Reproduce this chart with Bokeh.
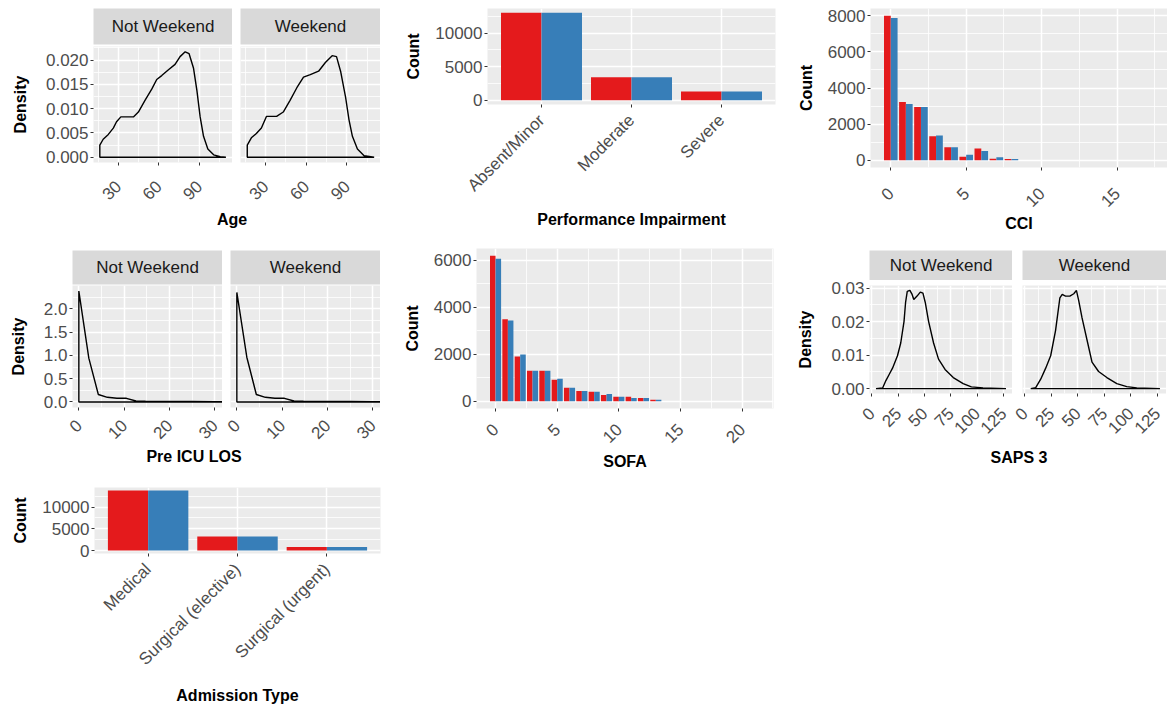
import math
from bokeh.plotting import figure
from bokeh.models import Range1d, FixedTicker, NumeralTickFormatter, Label, Spacer, ColumnDataSource
from bokeh.layouts import row, column
from bokeh.transform import dodge
from bokeh.embed import file_html
from bokeh.resources import INLINE

# ---------------------------------------------------------------- data
FACETS = ["Not Weekend", "Weekend"]

AGE_NW_X = [16.3, 18.8, 22.6, 26.3, 28.7, 31.9, 41.2, 44.9, 49.8, 54.8, 58.5, 62.2, 67.2,
            72.1, 75.8, 79.6, 82.5, 85.8, 88.3, 90.7, 93.2, 96.4, 100.7, 105.6, 109.8]
AGE_NW_Y = [0.0025, 0.0037, 0.0047, 0.0060, 0.0073, 0.0083, 0.0083, 0.0093, 0.0117, 0.0140,
            0.0160, 0.0168, 0.0180, 0.0191, 0.0207, 0.0217, 0.0213, 0.0183, 0.0137, 0.0083,
            0.0043, 0.0017, 0.0005, 0.0001, 0.0]
AGE_WE_X = [16.6, 19.6, 23.3, 27.0, 30.7, 38.2, 43.1, 48.1, 53.1, 58.0, 63.0, 69.1, 74.1,
            79.1, 82.3, 85.3, 89.0, 91.5, 94.0, 97.7, 102.6, 110.0]
AGE_WE_Y = [0.0025, 0.0040, 0.0049, 0.0060, 0.0084, 0.0084, 0.0093, 0.0117, 0.0143, 0.0165,
            0.0170, 0.0177, 0.0195, 0.0209, 0.0207, 0.0177, 0.0123, 0.0077, 0.0043, 0.0017,
            0.0003, 0.0]

LOS_NW_X = [0, 2.2, 4.3, 6.3, 8.4, 10.5, 12.6, 14.7, 20, 25, 30, 34]
LOS_NW_Y = [2.38, 0.94, 0.16, 0.10, 0.08, 0.078, 0.02, 0.015, 0.012, 0.010, 0.008, 0.007]
LOS_WE_X = [0, 2.2, 4.3, 6.3, 8.4, 10.5, 12.6, 14.7, 20, 25, 30, 34]
LOS_WE_Y = [2.35, 0.96, 0.16, 0.10, 0.08, 0.078, 0.02, 0.015, 0.012, 0.010, 0.008, 0.007]
LOS_XLIM = (-1.4, 31.7)

SAPS_NW_X = [4.0, 10.3, 13.4, 16.5, 19.7, 24.4, 27.5, 30.6, 32.1, 33.7, 36.2, 38.3, 39.9,
             43.0, 46.1, 48.6, 50.8, 54.0, 58.7, 63.4, 69.6, 77.4, 86.8, 94.6, 105.6, 127.5]
SAPS_NW_Y = [0.0, 0.0002, 0.0024, 0.0042, 0.0061, 0.0098, 0.0136, 0.0200, 0.0257, 0.0290,
             0.0293, 0.0281, 0.0266, 0.0276, 0.0288, 0.0285, 0.0257, 0.0200, 0.0136, 0.0088,
             0.0057, 0.0033, 0.0015, 0.0005, 0.0002, 0.0]
SAPS_WE_X = [5.6, 10.3, 15.0, 19.7, 24.4, 29.0, 33.1, 35.3, 38.4, 42.5, 46.2, 48.7, 50.9,
             54.0, 58.7, 63.4, 69.6, 77.4, 86.8, 96.2, 105.6, 127.5]
SAPS_WE_Y = [0.0, 0.0003, 0.0028, 0.0061, 0.0098, 0.0173, 0.0271, 0.0281, 0.0276, 0.0276,
             0.0283, 0.0293, 0.0262, 0.0211, 0.0145, 0.0079, 0.0051, 0.0033, 0.0015, 0.0006,
             0.0002, 0.0]

PERF_CATS = ["Absent/Minor", "Moderate", "Severe"]
PERF_RED = [13000, 3400, 1300]
PERF_BLUE = [13000, 3400, 1300]

ADM_CATS = ["Medical", "Surgical (elective)", "Surgical (urgent)"]
ADM_RED = [13800, 3200, 800]
ADM_BLUE = [13800, 3200, 800]

CCI_X = [0, 1, 2, 3, 4, 5, 6, 7, 8]
CCI_RED = [8000, 3230, 2950, 1330, 720, 190, 650, 80, 70]
CCI_BLUE = [7880, 3120, 2950, 1370, 720, 300, 520, 170, 70]
CCI_MAX = 17

SOFA_X = [0, 1, 2, 3, 4, 5, 6, 7, 8, 9, 10, 11, 12, 13]
SOFA_RED = [6190, 3490, 1900, 1300, 1300, 910, 570, 440, 400, 270, 190, 190, 140, 60]
SOFA_BLUE = [6060, 3440, 1990, 1300, 1300, 960, 570, 440, 400, 310, 190, 140, 140, 60]
SOFA_MAX = 21

AGE_XTICKS = [30, 60, 90]
AGE_YTICKS = [0, 0.005, 0.010, 0.015, 0.020]
LOS_XTICKS = [0, 10, 20, 30]
LOS_YTICKS = [0, 0.5, 1.0, 1.5, 2.0]
SAPS_XTICKS = [0, 25, 50, 75, 100, 125]
SAPS_YTICKS = [0, 0.01, 0.02, 0.03]
CCI_XTICKS = [0, 5, 10, 15]
CCI_YTICKS = [0, 2000, 4000, 6000, 8000]
SOFA_XTICKS = [0, 5, 10, 15, 20]
SOFA_YTICKS = [0, 2000, 4000, 6000]
COUNT_YTICKS = [0, 5000, 10000]

# ---------------------------------------------------------------- style
RED = "#E41A1C"
BLUE = "#377EB8"
PANEL_BG = "#EBEBEB"
STRIP_BG = "#D9D9D9"
FONT = "Liberation Sans"
TICK_SIZE = "17px"
TITLE_SIZE = "16px"
STRIP_SIZE = "17px"
BAR_W = 0.45


def expand(lo, hi, f=0.05):
    d = (hi - lo) * f
    return (lo - d, hi + d)


def minor_of(ticks):
    step = ticks[1] - ticks[0]
    return [t + step / 2 for t in [ticks[0] - step] + list(ticks)]


def make_panel(w, h, xr, yr, left, right, top, bottom, show_y=True):
    p = figure(width=w, height=h, x_range=Range1d(*xr), y_range=Range1d(*yr),
               output_backend="svg", toolbar_location=None,
               x_axis_location="below", y_axis_location="left" if show_y else None,
               min_border_left=left, min_border_right=right,
               min_border_top=top, min_border_bottom=bottom,
               background_fill_color=PANEL_BG, border_fill_color="white",
               outline_line_color=None)
    return p


def set_grid(p, xticks, yticks, xminor=True, yminor=True):
    p.xgrid.ticker = FixedTicker(ticks=list(xticks), minor_ticks=minor_of(xticks) if xminor else [])
    p.ygrid.ticker = FixedTicker(ticks=list(yticks), minor_ticks=minor_of(yticks) if yminor else [])
    p.grid.grid_line_color = "white"
    p.grid.grid_line_width = 1.5
    p.grid.minor_grid_line_color = "white"
    p.grid.minor_grid_line_width = 0.8
    p.xaxis.ticker = FixedTicker(ticks=list(xticks))
    p.yaxis.ticker = FixedTicker(ticks=list(yticks))


def style_axes(p, xlabel=None, ylabel=None, rot_x=True, xstand=12, ystand=12, xlab_off=10):
    for ax in list(p.xaxis) + list(p.yaxis):
        ax.axis_line_color = None
        ax.major_tick_line_color = "#333333"
        ax.major_tick_line_width = 1
        ax.major_tick_out = 3
        ax.major_tick_in = 0
        ax.minor_tick_line_color = None
        ax.major_label_text_font = FONT
        ax.major_label_text_font_size = TICK_SIZE
        ax.major_label_text_color = "#4D4D4D"
        ax.major_label_standoff = 2
        ax.axis_label_text_font = FONT
        ax.axis_label_text_font_style = "bold"
        ax.axis_label_text_font_size = TITLE_SIZE
        ax.axis_label_text_color = "black"
    p.xaxis.major_label_standoff = xlab_off
    if rot_x:
        p.xaxis.major_label_orientation = math.pi / 4
    if xlabel:
        p.xaxis.axis_label = xlabel
        p.xaxis.axis_label_standoff = xstand
    if ylabel:
        p.yaxis.axis_label = ylabel
        p.yaxis.axis_label_standoff = ystand


def density(p, xs, ys):
    px = [xs[0]] + list(xs) + [xs[-1]]
    py = [0] + list(ys) + [0]
    p.patch(px, py, fill_color=None, line_color="black", line_width=1.4)


def bars(p, xs, red, blue):
    src = ColumnDataSource(dict(x=list(xs), red=red, blue=blue))
    p.vbar(x=dodge("x", -BAR_W / 2, range=p.x_range), top="red", bottom=0, width=BAR_W,
           source=src, fill_color=RED, line_color=None)
    p.vbar(x=dodge("x", BAR_W / 2, range=p.x_range), top="blue", bottom=0, width=BAR_W,
           source=src, fill_color=BLUE, line_color=None)


def strip(w, h, left, text, bottom_gap):
    s = figure(width=w, height=h, x_range=Range1d(0, 1), y_range=Range1d(0, 1),
               output_backend="svg", toolbar_location=None,
               x_axis_location=None, y_axis_location=None,
               min_border_left=left, min_border_right=0, min_border_top=0,
               min_border_bottom=bottom_gap, background_fill_color=STRIP_BG,
               border_fill_color="white", outline_line_color=None)
    s.grid.visible = False
    s.add_layout(Label(x=0.5, y=0.5, text=text, text_align="center", text_baseline="middle",
                       text_font=FONT, text_font_size=STRIP_SIZE, text_color="#1A1A1A"))
    return s


def caption(w, h, text, cx, cy_top):
    c = figure(width=w, height=h, x_range=Range1d(0, w), y_range=Range1d(0, h),
               output_backend="svg", toolbar_location=None,
               x_axis_location=None, y_axis_location=None,
               min_border_left=0, min_border_right=0, min_border_top=0, min_border_bottom=0,
               background_fill_color="white", border_fill_color="white", outline_line_color=None)
    c.grid.visible = False
    c.add_layout(Label(x=cx, y=h - cy_top, text=text, text_align="center", text_baseline="middle",
                       text_font=FONT, text_font_style="bold", text_font_size=TITLE_SIZE,
                       text_color="black"))
    return c


def facet_block(block_w, top_pad, strip_h, strip_gap, panel_top, frame_h, panel_bottom,
                left, frame_w1, gap, frame_w2, xr, yr, xticks, yticks, yfmt, curves, xlab_off,
                title, cap_h, cap_cx, cap_cy, bottom_pad):
    w1 = left + frame_w1
    w2 = gap + frame_w2
    rest = block_w - w1 - w2
    panel_h = panel_top + frame_h + panel_bottom
    s1 = strip(w1, strip_h, left, FACETS[0], strip_gap)
    s2 = strip(w2, strip_h, gap, FACETS[1], strip_gap)
    p1 = make_panel(w1, panel_h, xr, yr, left, 0, panel_top, panel_bottom, show_y=True)
    p2 = make_panel(w2, panel_h, xr, yr, gap, 0, panel_top, panel_bottom, show_y=False)
    for p, (cx, cy) in zip((p1, p2), curves):
        set_grid(p, xticks, yticks)
        style_axes(p, ylabel="Density", ystand=14, xlab_off=xlab_off)
        p.yaxis.formatter = NumeralTickFormatter(format=yfmt)
        density(p, cx, cy)
    kids = []
    if top_pad:
        kids.append(Spacer(width=block_w, height=top_pad))
    kids.append(row(s1, s2, Spacer(width=rest, height=strip_h)))
    kids.append(row(p1, p2, Spacer(width=rest, height=panel_h)))
    kids.append(caption(block_w, cap_h, title, cap_cx, cap_cy))
    kids.append(Spacer(width=block_w, height=bottom_pad))
    return column(*kids)


def bar_cat_panel(w, h, left, right, top, bottom, cats, red, blue, yticks, xlabel, xstand):
    xs = list(range(1, len(cats) + 1))
    yr = expand(0, max(red + blue))
    p = make_panel(w, h, (xs[0] - 0.6, xs[-1] + 0.6), yr, left, right, top, bottom)
    set_grid(p, xs, yticks, xminor=False)
    style_axes(p, xlabel=xlabel, ylabel="Count", xstand=xstand, ystand=10, xlab_off=10)
    p.xaxis.major_label_overrides = {x: c for x, c in zip(xs, cats)}
    p.yaxis.formatter = NumeralTickFormatter(format="0")
    bars(p, xs, red, blue)
    return column(p)


def bar_num_panel(w, h, left, right, top, bottom, xs, red, blue, xmax, xticks, yticks, xlabel,
                  xstand, xlab_off):
    xr = expand(min(xs) - BAR_W, xmax + BAR_W)
    yr = expand(0, max(red + blue))
    p = make_panel(w, h, xr, yr, left, right, top, bottom)
    set_grid(p, xticks, yticks)
    style_axes(p, xlabel=xlabel, ylabel="Count", xstand=xstand, ystand=10, xlab_off=xlab_off)
    p.yaxis.formatter = NumeralTickFormatter(format="0")
    bars(p, xs, red, blue)
    return column(p)


# ---------------------------------------------------------------- row 1
age_x = expand(min(AGE_NW_X + AGE_WE_X), max(AGE_NW_X + AGE_WE_X))
age_y = expand(0, max(AGE_NW_Y + AGE_WE_Y))
block_age = facet_block(390, 8, 38, 2, 0, 117, 45, 93, 139, 8, 140, age_x, age_y,
                        AGE_XTICKS, AGE_YTICKS, "0.000",
                        [(AGE_NW_X, AGE_NW_Y), (AGE_WE_X, AGE_WE_Y)], 18,
                        "Age", 28, 231.5, 11, 8)

perf = bar_cat_panel(390, 244, 97, 5, 8, 140, PERF_CATS, PERF_RED, PERF_BLUE, COUNT_YTICKS,
                     "Performance Impairment", 6)
cci = bar_num_panel(387, 244, 90, 0, 8, 77, CCI_X, CCI_RED, CCI_BLUE, CCI_MAX,
                    CCI_XTICKS, CCI_YTICKS, "CCI", 0, 20)
row1 = row(block_age, perf, cci)

# ---------------------------------------------------------------- row 2
los_y = expand(0, max(LOS_NW_Y + LOS_WE_Y))
block_los = facet_block(390, 6, 35, 1, 0, 122, 41, 72, 150, 8, 150, LOS_XLIM, los_y,
                        LOS_XTICKS, LOS_YTICKS, "0.0",
                        [(LOS_NW_X, LOS_NW_Y), (LOS_WE_X, LOS_WE_Y)], 12,
                        "Pre ICU LOS", 24, 193.5, 8, 8)

sofa = bar_num_panel(390, 236, 86, 7, 4, 72, SOFA_X, SOFA_RED, SOFA_BLUE, SOFA_MAX,
                     SOFA_XTICKS, SOFA_YTICKS, "SOFA", 2, 15)

saps_x = expand(min(SAPS_NW_X + SAPS_WE_X), max(SAPS_NW_X + SAPS_WE_X))
saps_y = expand(0, max(SAPS_NW_Y + SAPS_WE_Y))
block_saps = facet_block(387, 6, 30, 0, 5, 115, 42, 89, 143, 10, 144, saps_x, saps_y,
                         SAPS_XTICKS, SAPS_YTICKS, "0.00",
                         [(SAPS_NW_X, SAPS_NW_Y), (SAPS_WE_X, SAPS_WE_Y)], 14,
                         "SAPS 3", 30, 238.5, 15, 8)
row2 = row(block_los, sofa, block_saps)

# ---------------------------------------------------------------- row 3
adm = bar_cat_panel(390, 227, 94, 10, 7, 150, ADM_CATS, ADM_RED, ADM_BLUE, COUNT_YTICKS,
                    "Admission Type", 9)
row3 = row(adm, Spacer(width=777, height=227))

page = column(row1, row2, row3)
open("out.html", "w").write(file_html(page, INLINE, title="ICU cohort characteristics"))
